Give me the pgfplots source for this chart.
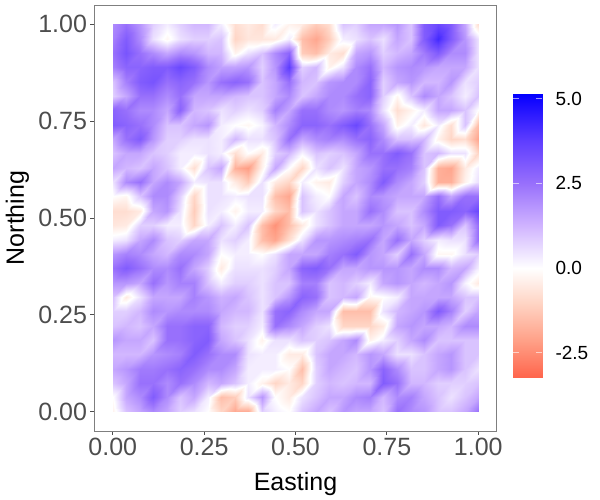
\documentclass[border=0pt]{standalone}
\usepackage{fontspec}
\setmainfont{Liberation Sans}
\usepackage{pgfplots}
\usepackage{pgfplotstable}
\pgfplotsset{compat=1.18}
\definecolor{ticktxt}{HTML}{4D4D4D}
\definecolor{panelb}{HTML}{7F7F7F}

% field, row by row from the top, 28 x 28
\pgfplotstableread[row sep=\\]{
v\\
2.0\\2.5\\1.8\\0.8\\0.3\\0.8\\1.2\\1.2\\0.3\\-0.8\\-0.5\\-0.8\\0.3\\-0.3\\-0.5\\-1.2\\-0.8\\1.0\\0.8\\1.5\\1.5\\1.8\\1.0\\3.0\\3.5\\3.0\\1.5\\-0.8\\
2.2\\3.0\\2.0\\0.5\\-0.2\\0.5\\0.8\\0.8\\1.0\\-1.0\\-0.6\\-0.6\\-0.5\\0.3\\-1.5\\-2.0\\-1.2\\0.3\\0.5\\1.0\\0.5\\1.5\\1.0\\3.0\\4.2\\3.0\\1.8\\0.5\\
2.5\\3.2\\2.5\\2.0\\1.5\\2.0\\1.8\\1.2\\1.2\\-0.3\\0.5\\1.0\\2.0\\2.8\\-1.2\\-1.5\\-0.5\\-0.8\\1.5\\1.8\\0.8\\1.2\\1.5\\2.3\\3.0\\2.0\\2.0\\0.5\\
2.2\\2.8\\2.8\\3.0\\3.0\\3.5\\3.0\\2.0\\1.6\\1.6\\1.8\\0.8\\1.8\\3.8\\0.8\\1.2\\-0.3\\0.5\\2.0\\2.5\\1.2\\1.8\\2.0\\1.8\\1.5\\1.5\\1.5\\0.5\\
1.0\\2.2\\3.0\\3.2\\2.5\\2.8\\2.5\\1.8\\2.5\\2.8\\2.5\\1.0\\1.5\\2.5\\1.2\\1.0\\1.8\\2.0\\2.0\\2.8\\0.8\\1.5\\1.8\\1.2\\1.2\\1.8\\0.5\\0.8\\
0.8\\1.5\\2.5\\2.5\\2.0\\2.5\\1.5\\1.5\\1.5\\1.2\\1.0\\1.0\\1.5\\2.0\\1.0\\1.5\\2.0\\2.0\\2.5\\2.8\\0.8\\-0.2\\1.0\\2.0\\1.5\\1.0\\0.3\\1.0\\
2.8\\2.5\\2.0\\2.0\\1.5\\2.8\\1.2\\1.0\\0.5\\0.8\\0.5\\0.8\\2.2\\1.5\\2.5\\2.5\\2.0\\1.8\\2.2\\2.0\\0.5\\-0.8\\-0.3\\0.3\\1.5\\1.5\\1.0\\0.0\\
3.0\\2.8\\2.5\\2.0\\1.0\\1.0\\1.5\\1.8\\0.3\\0.0\\-0.2\\0.2\\1.2\\2.0\\2.8\\2.8\\2.5\\3.0\\3.5\\2.5\\1.5\\-0.3\\0.3\\-0.6\\0.3\\-0.8\\1.0\\-1.5\\
1.5\\2.5\\3.0\\1.8\\0.8\\0.8\\0.5\\0.5\\0.3\\1.2\\0.5\\0.5\\1.0\\2.5\\1.5\\2.0\\2.2\\2.0\\2.5\\2.8\\2.0\\1.0\\1.0\\1.2\\-0.3\\-1.0\\-0.8\\-2.0\\
1.0\\1.5\\1.5\\1.0\\0.8\\0.3\\0.3\\0.5\\0.3\\-0.8\\0.0\\-0.5\\0.8\\1.2\\0.2\\1.0\\0.8\\1.0\\1.5\\2.5\\2.5\\3.0\\2.5\\1.0\\1.2\\0.5\\0.5\\-1.0\\
1.5\\1.2\\1.0\\1.5\\1.0\\0.3\\-0.8\\1.0\\1.5\\-1.8\\-2.2\\-0.3\\1.5\\0.0\\-1.0\\0.5\\1.0\\0.5\\1.5\\1.8\\2.5\\2.5\\2.2\\1.0\\-1.8\\-2.0\\-0.5\\0.3\\
0.5\\2.0\\2.5\\1.5\\2.0\\1.5\\0.3\\0.5\\0.5\\-0.5\\-1.2\\0.5\\-0.5\\-1.0\\0.3\\-0.3\\-0.5\\0.8\\1.5\\2.0\\3.0\\2.0\\1.5\\0.8\\-1.8\\-1.8\\-0.3\\0.5\\
0.0\\-0.2\\1.0\\2.0\\2.0\\0.8\\-1.0\\0.5\\0.5\\0.3\\0.5\\0.5\\-1.5\\-2.0\\1.0\\0.3\\0.0\\1.5\\1.0\\2.0\\1.8\\1.5\\1.5\\1.5\\2.5\\1.5\\2.5\\2.5\\
-0.8\\-0.8\\-0.5\\1.5\\1.8\\0.5\\-1.2\\0.5\\0.3\\-0.3\\0.3\\0.3\\-1.0\\-1.5\\1.0\\0.5\\1.0\\1.5\\1.5\\2.5\\2.0\\1.0\\1.0\\2.0\\3.0\\3.0\\2.8\\3.5\\
-0.6\\-0.5\\0.8\\0.8\\0.3\\0.3\\-1.0\\0.3\\1.0\\0.3\\1.0\\-1.5\\-2.4\\-1.5\\-0.5\\0.5\\1.0\\1.5\\1.5\\1.5\\1.8\\1.5\\1.0\\1.5\\3.0\\2.5\\1.0\\2.5\\
0.3\\0.5\\1.5\\2.0\\1.0\\0.8\\1.5\\1.5\\0.5\\0.8\\0.3\\-1.5\\-2.0\\-0.8\\0.5\\1.8\\1.8\\2.0\\2.2\\2.5\\1.5\\2.5\\1.5\\0.8\\0.3\\0.5\\0.5\\2.5\\
1.8\\2.2\\2.0\\1.5\\1.2\\2.0\\2.0\\1.5\\0.0\\0.3\\0.3\\0.0\\0.5\\1.5\\1.5\\1.5\\2.2\\2.5\\3.0\\1.8\\1.5\\0.8\\2.5\\1.5\\-0.2\\-0.2\\0.5\\0.8\\
2.5\\3.0\\2.5\\2.0\\2.0\\2.5\\1.5\\0.8\\-0.5\\0.5\\0.5\\0.5\\0.8\\1.5\\2.8\\3.0\\2.5\\1.5\\1.5\\1.8\\1.8\\1.8\\1.5\\2.0\\2.0\\1.2\\1.5\\0.3\\
1.8\\1.8\\1.5\\2.5\\1.8\\2.2\\2.2\\1.0\\0.3\\0.8\\0.8\\0.5\\1.0\\1.0\\2.2\\2.2\\1.0\\1.2\\0.8\\0.3\\1.5\\1.8\\1.5\\1.2\\1.5\\1.8\\0.2\\-0.5\\
1.0\\-0.5\\0.5\\1.5\\1.5\\1.5\\2.2\\1.8\\1.3\\1.5\\1.0\\0.5\\1.0\\1.8\\2.8\\2.5\\1.0\\1.2\\1.5\\-0.2\\0.0\\0.3\\1.5\\1.5\\1.5\\1.5\\1.0\\1.0\\
0.8\\0.8\\1.2\\2.0\\1.8\\2.0\\2.0\\2.0\\1.5\\1.2\\1.2\\0.5\\2.5\\2.8\\2.0\\1.5\\1.5\\-1.5\\-1.5\\-1.5\\0.5\\1.2\\1.5\\1.8\\3.0\\2.2\\0.8\\1.5\\
1.0\\1.2\\1.0\\1.5\\2.5\\2.5\\2.8\\2.8\\1.2\\0.8\\0.8\\0.3\\2.5\\2.0\\1.5\\0.8\\0.5\\-1.0\\-1.0\\-1.0\\-0.5\\1.5\\1.8\\1.5\\1.5\\1.2\\2.0\\2.0\\
1.8\\1.5\\1.5\\1.0\\2.5\\2.5\\2.8\\3.0\\1.5\\1.0\\0.5\\-0.3\\0.5\\0.5\\1.0\\0.8\\1.0\\1.5\\2.0\\-0.3\\0.3\\0.8\\1.5\\2.0\\1.0\\1.0\\1.0\\1.0\\
1.2\\1.2\\1.2\\1.8\\2.0\\2.2\\3.0\\2.5\\2.0\\2.0\\0.5\\0.3\\0.3\\-0.5\\-0.5\\1.0\\1.5\\1.5\\1.2\\1.8\\1.5\\0.5\\0.5\\1.0\\1.5\\1.8\\1.0\\1.0\\
1.5\\1.8\\2.3\\2.3\\2.5\\2.8\\2.5\\2.0\\2.0\\1.5\\0.3\\0.3\\0.3\\0.0\\-1.5\\0.8\\1.5\\1.2\\1.0\\1.8\\2.8\\2.0\\1.0\\1.0\\1.5\\1.8\\1.0\\0.5\\
1.0\\1.5\\2.5\\2.5\\2.0\\2.5\\2.0\\1.2\\1.5\\1.0\\0.3\\-0.3\\-1.0\\-0.5\\-1.0\\0.8\\1.2\\1.0\\1.2\\1.2\\3.0\\2.5\\1.2\\1.2\\0.8\\0.8\\0.8\\1.0\\
0.0\\1.5\\2.0\\3.0\\2.0\\1.0\\1.5\\0.3\\-1.5\\-1.2\\0.5\\1.8\\0.0\\-0.5\\0.5\\1.0\\1.5\\1.5\\2.0\\2.2\\1.2\\2.0\\2.2\\1.5\\1.0\\0.5\\1.0\\1.5\\
-0.3\\1.0\\1.5\\2.0\\1.5\\0.8\\0.5\\0.0\\-1.0\\-2.0\\-2.0\\0.8\\0.3\\0.0\\1.0\\1.5\\1.0\\1.8\\1.5\\1.5\\1.0\\2.5\\2.0\\1.8\\1.0\\1.0\\1.5\\2.5\\
}\fieldtable

% colour bar ends
\pgfplotstableread{
x y v
0 -3.24 -3.24
1 -3.24 -3.24
0 5.14 5.14
1 5.14 5.14
}\bartable

\pgfplotsset{
  colormap={rwb}{rgb255(0cm)=(255,100,75) rgb255(1.1cm)=(255,160,135) rgb255(2.2cm)=(255,212,196) rgb255(3.24cm)=(255,255,255) rgb255(4.49cm)=(208,180,255) rgb255(5.74cm)=(152,112,252) rgb255(6.99cm)=(95,62,255) rgb255(8.24cm)=(15,5,255) rgb255(8.38cm)=(0,0,255)},
}

\begin{document}
\begin{tikzpicture}
\path[use as bounding box] (0,0) rectangle (600pt,500pt);
\begin{axis}[
    at={(94.5pt,69pt)}, anchor=south west,
    scale only axis, width=402pt, height=426pt,
    xmin=-0.05, xmax=1.05, ymin=-0.05, ymax=1.05,
    colormap name=rwb,
    point meta min=-3.24, point meta max=5.14,
    axis line style={panelb, line width=0.9pt},
    tick style={draw=ticktxt, line width=0.8pt},
    tick align=outside, tick pos=left, major tick length=4pt,
    xtick={0,0.25,0.5,0.75,1}, ytick={0,0.25,0.5,0.75,1},
    xticklabels={0.00,0.25,0.50,0.75,1.00},
    yticklabels={0.00,0.25,0.50,0.75,1.00},
    ticklabel style={font=\fontsize{25}{29}\selectfont, text=ticktxt},
    xlabel={Easting}, ylabel={Northing},
    label style={font=\fontsize{25}{29}\selectfont},
    xlabel style={at={(axis description cs:0.5,0)}, anchor=north, yshift=-38pt},
    ylabel style={at={(axis description cs:0,0.5)}, anchor=south, yshift=62pt},
    axis on top,
]
\addplot[surf, shader=interp, mesh/cols=28, mesh/rows=28, point meta=explicit]
  table[x index=0, y index=0, x expr={(mod(\coordindex+0.5,28)-0.5)/27}, y expr={1-floor((\coordindex+0.5)/28)/27}, meta=v] {\fieldtable};
\end{axis}
\begin{axis}[
    at={(513pt,122.3pt)}, anchor=south west,
    scale only axis, width=29pt, height=283.7pt,
    xmin=0, xmax=1, ymin=-3.24, ymax=5.14,
    colormap name=rwb,
    point meta min=-3.24, point meta max=5.14,
    axis line style={draw=none},
    xtick=\empty,
    ytick={-2.5,0,2.5,5},
    yticklabels={-2.5,0.0,2.5,5.0},
    tick style={draw=white, line width=0.5pt, opacity=0.6},
    tick align=inside, major tick length=5.8pt,
    ytick pos=both, yticklabel pos=right,
    yticklabel style={font=\fontsize{19}{22}\selectfont, anchor=west, xshift=10pt},
    axis on top,
]
\addplot[surf, shader=interp, mesh/cols=2, mesh/rows=2, point meta=explicit]
  table[x=x, y=y, meta=v] {\bartable};
\end{axis}
\end{tikzpicture}
\end{document}
